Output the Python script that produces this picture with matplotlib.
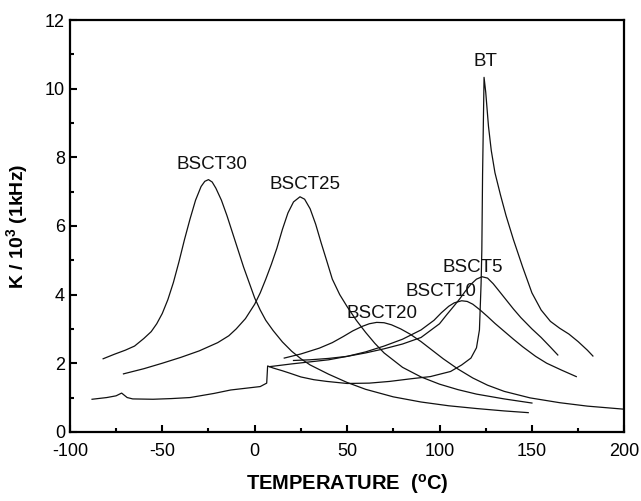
import numpy as np
import matplotlib
matplotlib.use('Agg')
import matplotlib.pyplot as plt
from matplotlib.ticker import MultipleLocator

plt.rcParams['font.family'] = ['Liberation Sans', 'DejaVu Sans']
plt.rcParams['mathtext.fontset'] = 'custom'
plt.rcParams['mathtext.rm'] = 'Liberation Sans'
plt.rcParams['mathtext.bf'] = 'Liberation Sans:bold'
plt.rcParams['axes.unicode_minus'] = False

# dielectric constant curves (T in degC, K / 10^3)
t_bsct30 = [-82, -76, -70, -65, -60, -56, -53, -50, -47, -44, -41, -38, -35, -32, -29, -27, -25, -23,
            -21, -18, -15, -12, -9, -6, -3, 0, 3, 6, 10, 15, 20, 25, 30, 40, 50, 60, 75, 90, 105, 120, 135, 148]
k_bsct30 = [2.13, 2.26, 2.38, 2.5, 2.72, 2.92, 3.15, 3.45, 3.85, 4.35, 4.95, 5.6, 6.2, 6.75, 7.15, 7.3, 7.35, 7.28,
            7.1, 6.75, 6.3, 5.8, 5.3, 4.8, 4.35, 3.9, 3.55, 3.25, 2.95, 2.62, 2.35, 2.13, 1.95, 1.68, 1.44, 1.24,
            1.02, 0.87, 0.76, 0.68, 0.61, 0.56]

t_bsct25 = [-71, -60, -50, -40, -30, -20, -14, -10, -5, 0, 3, 6, 9, 12, 15, 18, 21, 24.5, 27, 30, 33, 36, 39,
            42, 46, 50, 55, 60, 65, 70, 80, 90, 100, 110, 120, 135, 150]
k_bsct25 = [1.69, 1.84, 2.0, 2.17, 2.36, 2.6, 2.8, 3.0, 3.3, 3.72, 4.05, 4.45, 4.88, 5.35, 5.9, 6.38, 6.7, 6.85,
            6.78, 6.5, 6.05, 5.5, 4.98, 4.45, 4.0, 3.65, 3.25, 2.9, 2.58, 2.3, 1.88, 1.6, 1.39, 1.23, 1.1, 0.96, 0.84]

t_bsct20 = [16, 25, 35, 42, 48, 53, 58, 62, 66, 70, 74, 79, 84, 90, 96, 102, 110, 118, 126, 135, 149,
            165, 180, 200]
k_bsct20 = [2.15, 2.27, 2.44, 2.6, 2.78, 2.94, 3.07, 3.15, 3.19, 3.18, 3.12, 3.0, 2.85, 2.63, 2.38, 2.13,
            1.83, 1.57, 1.36, 1.18, 0.99, 0.85, 0.75, 0.66]

t_bsct10 = [8, 20, 30, 40, 50, 60, 70, 80, 90, 97, 101, 105, 108, 112, 115, 118, 122, 126, 130, 135, 140,
            145, 152, 158, 166, 174]
k_bsct10 = [1.9, 1.98, 2.04, 2.1, 2.2, 2.33, 2.5, 2.7, 2.97, 3.25, 3.47, 3.66, 3.76, 3.82, 3.8, 3.72, 3.55,
            3.36, 3.16, 2.93, 2.7, 2.48, 2.2, 2.0, 1.8, 1.61]

t_bsct5 = [21, 30, 40, 50, 60, 70, 80, 90, 100, 104, 108, 111, 114, 117, 120, 123, 126, 129, 132, 136,
           140, 144, 150, 155, 160, 164]
k_bsct5 = [2.08, 2.1, 2.14, 2.2, 2.3, 2.42, 2.56, 2.75, 3.15, 3.42, 3.68, 3.88, 4.1, 4.3, 4.45, 4.52, 4.48,
           4.32, 4.12, 3.85, 3.58, 3.33, 3.0, 2.75, 2.47, 2.24]

t_bt = [-88, -80, -75, -72, -69, -66, -55, -45, -35, -22, -13, -5, 3, 6.5, 7, 10, 15, 19, 25, 32, 39,
        50, 62, 73, 85, 95, 106, 112, 117, 120, 121.6, 122.5, 122.9, 123.3, 124.1, 125, 126.5, 128, 130,
        133, 136, 140, 145, 150, 155, 160, 165, 170, 175, 180, 183]
k_bt = [0.95, 1.0, 1.05, 1.13, 1.0, 0.96, 0.95, 0.97, 1.0, 1.12, 1.22, 1.27, 1.32, 1.42, 1.92, 1.86, 1.78, 1.71,
        1.6, 1.52, 1.47, 1.41, 1.42, 1.47, 1.55, 1.61, 1.76, 1.95, 2.15, 2.45, 2.97, 4.33, 5.3, 7.5, 10.33,
        9.9, 8.9, 8.2, 7.55, 6.9, 6.3, 5.6, 4.8, 4.05, 3.55, 3.22, 3.02, 2.85, 2.63, 2.38, 2.21]

labels = ['BSCT30', 'BSCT25', 'BSCT20', 'BSCT10', 'BSCT5', 'BT']
label_t = [-23, 27, 69, 101, 118, 125]
label_k = [7.8, 7.2, 3.45, 4.1, 4.8, 10.8]

fig = plt.figure(figsize=(6.41, 5.01), dpi=100)
ax = fig.add_axes([0.109, 0.138, 0.865, 0.822])

for t, k in [(t_bsct30, k_bsct30), (t_bsct25, k_bsct25), (t_bsct20, k_bsct20),
             (t_bsct10, k_bsct10), (t_bsct5, k_bsct5), (t_bt, k_bt)]:
    ax.plot(t, k, color='#111111', lw=0.9)

for lab, x, y in zip(labels, label_t, label_k):
    ax.text(x, y, lab, fontsize=13.5, ha='center', va='center', color='#111111')

ax.set_xlim(-100, 200)
ax.set_ylim(0, 12)
ax.xaxis.set_major_locator(MultipleLocator(50))
ax.xaxis.set_minor_locator(MultipleLocator(25))
ax.yaxis.set_major_locator(MultipleLocator(2))
ax.yaxis.set_minor_locator(MultipleLocator(1))
ax.tick_params(which='both', direction='in', top=False, right=False, labelsize=13, width=1.5)
ax.tick_params(which='major', length=5)
ax.tick_params(axis='x', which='major', pad=8)
ax.tick_params(which='minor', length=3)
for s in ax.spines.values():
    s.set_linewidth(1.6)

ax.set_xlabel(r'TEMPERATURE  ($^{\mathbf{o}}$C)', fontsize=14.5, fontweight='bold', labelpad=9)
ax.set_ylabel(r'K / 10$^{\mathbf{3}}$ (1kHz)', fontsize=14, fontweight='bold', labelpad=10)

fig.savefig('out.png', dpi=100)
